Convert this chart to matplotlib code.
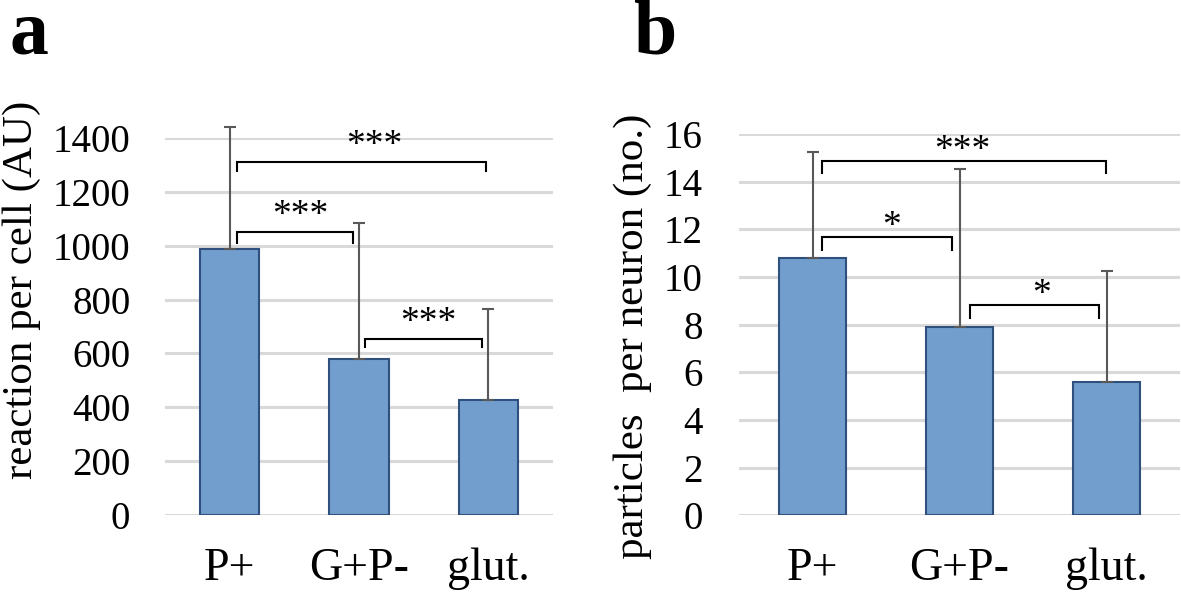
import matplotlib
matplotlib.use("Agg")
import matplotlib.pyplot as plt
import numpy as np

categories = ['P+', 'G+P-', 'glut.']
reaction_mean = [987, 581, 429]
reaction_err = [452, 503, 337]
particles_mean = [10.78, 7.90, 5.61]
particles_err = [4.48, 6.63, 4.66]

# significance brackets: (x_start, x_end, y_top, y_foot, label, label_x)
reaction_brackets = [(0.06, 1.98, 1309, 1278, '***', 1.12),
                     (0.06, 0.954, 1051, 1008, '***', 0.544),
                     (1.05, 1.95, 654, 623, '***', 1.538)]
particles_brackets = [(0.064, 1.995, 14.87, 14.35, '***', 1.022),
                      (0.064, 0.95, 11.67, 11.13, '*', 0.538),
                      (1.07, 1.95, 8.83, 8.27, '*', 1.559)]

reaction_ticks = [0, 200, 400, 600, 800, 1000, 1200, 1400]
particles_ticks = [0, 2, 4, 6, 8, 10, 12, 14, 16]

FAM = ['Liberation Serif', 'DejaVu Serif']
plt.rcParams['font.family'] = FAM

W, H = 1181, 598
fig = plt.figure(figsize=(W / 100, H / 100), dpi=100)

bar_fill = '#729ECE'
bar_edge = '#2F4F7F'
err_col = '#595959'
grid_col = '#D9D9D9'


def panel(rect, means, errs, ticks, brackets, ytick_pad, star_offset):
    ax = fig.add_axes(rect)
    x = np.arange(len(categories))
    ax.bar(x, means, width=0.46, color=bar_fill, edgecolor=bar_edge,
           linewidth=1.5, zorder=2)
    ax.errorbar(x, means, yerr=[np.zeros(len(errs)), errs], fmt='none',
                ecolor=err_col, elinewidth=1.5, capsize=4.5, capthick=1.5,
                zorder=3, clip_on=False)
    for x1, x2, yt, yf, lab, lx in brackets:
        ax.plot([x1, x1, x2, x2], [yf, yt, yt, yf], color='black', lw=1.5,
                zorder=4, clip_on=False, solid_joinstyle='miter')
        ax.annotate(lab, xy=(lx, yt), xytext=(0, star_offset),
                    textcoords='offset points', ha='center', va='baseline',
                    fontsize=27, family=FAM, annotation_clip=False)
    ax.set_xlim(-0.5, 2.5)
    ax.set_ylim(ticks[0], ticks[-1])
    ax.set_yticks(ticks)
    ax.set_yticklabels([str(t) for t in ticks], family=FAM, fontsize=28)
    ax.set_xticks(x)
    ax.set_xticklabels(categories, fontsize=33, family=FAM)
    ax.tick_params(axis='y', length=0, pad=ytick_pad)
    ax.tick_params(axis='x', length=0, pad=23)
    for s in ax.spines.values():
        s.set_visible(False)
    ax.set_axisbelow(True)
    ax.yaxis.grid(True, color=grid_col, lw=2.2)
    return ax


axa = panel([165 / W, 82.7 / H, 388 / W, 377.6 / H], reaction_mean,
            reaction_err, reaction_ticks, reaction_brackets, 25, 5)
axb = panel([739 / W, 82.7 / H, 441 / W, 381.3 / H], particles_mean,
            particles_err, particles_ticks, particles_brackets, 26, 0.5)

fig.text(22 / W, 1 - 290 / H, 'reaction per cell (AU)', rotation=90,
         ha='center', va='center', fontsize=31, family=FAM)
fig.text(633 / W, 1 - 336 / H, 'particles  per neuron (no.)', rotation=90,
         ha='center', va='center', fontsize=31, family=FAM)

fig.text(10 / W, 1 - 53 / H, 'a', fontsize=56, fontweight='bold',
         ha='left', va='baseline', family=FAM)
fig.text(634 / W, 1 - 53 / H, 'b', fontsize=56, fontweight='bold',
         ha='left', va='baseline', family=FAM)

fig.savefig('out.png', dpi=100)
